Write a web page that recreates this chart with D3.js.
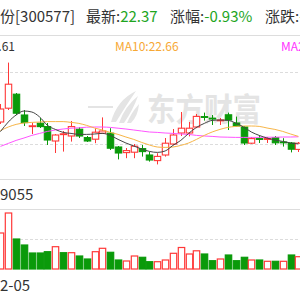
<!DOCTYPE html>
<html>
<head>
<meta charset="utf-8">
<script src="https://cdn.jsdelivr.net/npm/d3@7"></script>
<style>
  html, body { margin: 0; padding: 0; background: #fff; overflow: hidden; }
  svg { display: block; }
</style>
</head>
<body>
<svg id="chart"></svg>
<script>
// daily k-line, 39 sessions visible
const opens  = [23.50, 24.19, 24.89, 23.85, 23.30, 23.44, 23.27, 22.55, 22.90, 22.80, 23.14, 22.72, 22.64, 22.94, 22.94, 22.25, 21.97, 21.99, 22.17, 21.85, 21.57, 21.85, 22.40, 22.95, 22.95, 23.25, 23.77, 23.69, 23.59, 23.86, 23.45, 23.25, 22.44, 22.67, 22.66, 22.72, 22.50, 22.45, 22.13];
const closes = [24.15, 25.39, 23.94, 23.47, 23.31, 23.27, 22.60, 22.85, 22.91, 23.27, 22.80, 22.55, 22.99, 23.05, 22.19, 21.95, 22.07, 22.29, 22.02, 21.60, 21.78, 22.44, 22.85, 23.19, 23.19, 23.78, 23.76, 23.68, 23.60, 23.60, 23.30, 22.45, 22.67, 22.66, 22.67, 22.46, 22.49, 22.14, 22.44];
const highs  = [24.40, 26.47, 24.95, 24.10, 23.45, 23.70, 23.45, 22.90, 23.05, 23.55, 23.25, 22.80, 23.19, 23.73, 23.19, 22.30, 22.20, 22.40, 22.35, 22.02, 21.94, 22.70, 23.15, 24.00, 23.50, 23.90, 23.97, 23.85, 23.70, 23.97, 23.77, 23.30, 22.75, 22.83, 22.75, 22.80, 22.69, 22.50, 22.50];
const lows   = [23.40, 24.10, 23.85, 23.30, 22.90, 23.20, 22.35, 21.95, 22.02, 22.52, 22.70, 22.50, 22.44, 22.90, 22.10, 21.63, 21.69, 21.69, 21.77, 21.52, 21.38, 21.77, 22.35, 22.80, 22.78, 23.19, 23.57, 23.35, 23.35, 23.10, 23.27, 22.35, 22.40, 22.45, 22.45, 22.35, 22.27, 21.98, 22.00];

const volumes = [36000, 56000, 30000, 24000, 16000, 16000, 17300, 22300, 16300, 16300, 13000, 10000, 17300, 20700, 16700, 9000, 8000, 13000, 11700, 7300, 7300, 9000, 15700, 21500, 15000, 18200, 15000, 8300, 10000, 14000, 8300, 11700, 9000, 9000, 7700, 7700, 7700, 14000, 12300];
const volUp   = [1, 1, 0, 0, 0, 0, 0, 1, 0, 1, 0, 0, 1, 1, 0, 0, 1, 1, 0, 0, 1, 1, 1, 1, 1, 1, 0, 0, 1, 0, 0, 0, 1, 0, 1, 0, 1, 0, 1];

const ma5  = [23.02, 23.50, 23.85, 24.05, 24.00, 23.75, 23.33, 23.13, 22.98, 22.93, 22.88, 22.88, 22.90, 22.93, 22.83, 22.63, 22.45, 22.30, 22.15, 22.03, 21.98, 22.05, 22.33, 22.58, 22.93, 23.23, 23.43, 23.58, 23.60, 23.58, 23.45, 23.25, 23.00, 22.83, 22.70, 22.60, 22.53, 22.45, 22.40];
const ma10 = [23.07, 23.25, 23.38, 23.45, 23.48, 23.50, 23.52, 23.52, 23.52, 23.48, 23.43, 23.33, 23.20, 23.10, 22.98, 22.88, 22.75, 22.63, 22.48, 22.35, 22.25, 22.23, 22.25, 22.33, 22.45, 22.63, 22.83, 23.00, 23.13, 23.23, 23.28, 23.30, 23.30, 23.28, 23.20, 23.13, 23.03, 22.90, 22.78];
const ma20 = [22.28, 22.43, 22.58, 22.70, 22.83, 22.93, 23.03, 23.10, 23.15, 23.19, 23.21, 23.24, 23.25, 23.25, 23.23, 23.19, 23.15, 23.10, 23.05, 23.00, 22.98, 22.95, 22.93, 22.90, 22.88, 22.83, 22.80, 22.78, 22.75, 22.74, 22.73, 22.73, 22.73, 22.73, 22.74, 22.74, 22.75, 22.75, 22.76];

const priceTicks = [22.40, 26.00];
const volTicks = [30000];

const stockHidden = '开润股';   // scrolled off the left edge, only 份 shows
const header = [
  { label: '份[300577]', value: '', x: 0 },
  { label: '最新:', value: '22.37', x: 86 },
  { label: '涨幅:', value: '-0.93%', x: 170 },
  { label: '涨跌:', value: '-0.21', x: 265 }
];
const maLabels = [
  { text: 'MA5:22.61', color: '#333', anchor: 'end', x: 15 },
  { text: 'MA10:22.66', color: '#f7a834', anchor: 'start', x: 115 },
  { text: 'MA20:22.76', color: '#ff33ff', anchor: 'start', x: 281 }
];
const volLabel = '9055';
const dateLabel = '2-05';

/* ── setup ── */
const W = 300, H = 300;
const FONT = '"Noto Sans CJK SC", "Microsoft YaHei", sans-serif';
const RED = '#ff3838', GREEN = '#0a9a0a', GRID = '#dcdcdc';

const svg = d3.select('#chart').attr('width', W).attr('height', H)
  .attr('viewBox', `0 0 ${W} ${H}`);

const idx = d3.range(opens.length);
const x = d3.scaleLinear().domain([0, opens.length - 1]).range([0.45, 298.4]);
const y = d3.scaleLinear().domain([22.40, 26.00]).range([144, 72]);
const yv = d3.scaleLinear().domain([0, 60000]).range([269, 209]);
const bw = 6.4;

/* ── header text ── */
const ht = svg.append('g').attr('font-family', FONT).attr('font-size', 15);
// measure the part of the name that sits left of the frame
const probe = ht.append('text').attr('x', 0).attr('y', -50).text(stockHidden);
const hiddenW = probe.node().getComputedTextLength();
probe.remove();
header.forEach((h, k) => {
  const t = ht.append('text').attr('x', k === 0 ? -hiddenW : h.x).attr('y', 22);
  t.append('tspan').attr('fill', '#333').text(k === 0 ? stockHidden + h.label : h.label);
  if (h.value) t.append('tspan').attr('fill', '#1ea51e').text(h.value);
});

/* ── frame lines ── */
[35.5, 179.5, 209.5].forEach((yy) => {
  svg.append('line').attr('x1', 0).attr('x2', W).attr('y1', yy).attr('y2', yy)
    .attr('stroke', '#ddd').attr('stroke-width', 1);
});

svg.append('g').selectAll('line').data(priceTicks).join('line')
  .attr('x1', 0).attr('x2', W)
  .attr('y1', (d) => Math.round(y(d)) + 0.5).attr('y2', (d) => Math.round(y(d)) + 0.5)
  .attr('stroke', GRID).attr('stroke-dasharray', '3,2');

svg.append('g').selectAll('line').data(volTicks).join('line')
  .attr('x1', 0).attr('x2', W)
  .attr('y1', (d) => Math.round(yv(d)) + 0.5).attr('y2', (d) => Math.round(yv(d)) + 0.5)
  .attr('stroke', GRID).attr('stroke-dasharray', '3,2');

/* ── MA labels ── */
svg.append('g').attr('font-family', FONT).attr('font-size', 12)
  .selectAll('text').data(maLabels).join('text')
  .attr('x', (d) => d.x).attr('y', 51)
  .attr('text-anchor', (d) => d.anchor)
  .attr('fill', (d) => d.color)
  .text((d) => d.text);

/* ── watermark ── */
const wm = svg.append('g').attr('fill', '#e4e4e4');
wm.append('line').attr('x1', 88).attr('x2', 113).attr('y1', 107).attr('y2', 107)
  .attr('stroke', '#e4e4e4').attr('stroke-width', 2);
wm.append('path').attr('d', 'M111,122 Q117,100 136,91 Q127,104 116,122 Z');
wm.append('path').attr('d', 'M119,123 Q125,106 138,96 Q133,110 124,123 Z');
wm.append('path').attr('d', 'M127,123 Q131,113 139,104 Q138,116 131,123 Z');
wm.append('text').attr('x', 147).attr('y', 121)
  .attr('font-family', FONT).attr('font-size', 32).attr('font-weight', 700)
  .attr('textLength', 114).attr('lengthAdjust', 'spacingAndGlyphs')
  .text('东方财富');

/* ── candles ── */
const isUp = (i) => closes[i] >= opens[i];
const cg = svg.append('g');
cg.selectAll('line.wick').data(idx).join('line')
  .attr('class', 'wick')
  .attr('x1', (i) => Math.round(x(i)) + 0.5).attr('x2', (i) => Math.round(x(i)) + 0.5)
  .attr('y1', (i) => y(highs[i])).attr('y2', (i) => y(lows[i]))
  .attr('stroke', (i) => isUp(i) ? RED : GREEN).attr('stroke-width', 1);
cg.selectAll('rect.body').data(idx).join('rect')
  .attr('class', 'body')
  .attr('x', (i) => Math.round(x(i)) + 0.5 - bw / 2)
  .attr('y', (i) => y(Math.max(opens[i], closes[i])))
  .attr('width', bw)
  .attr('height', (i) => Math.max(0.8, Math.abs(y(opens[i]) - y(closes[i]))))
  .attr('fill', (i) => isUp(i) ? '#fff' : GREEN)
  .attr('stroke', (i) => isUp(i) ? RED : GREEN)
  .attr('stroke-width', 1.1);

/* ── moving averages ── */
const maLine = (arr) => d3.line().x((d, i) => x(i)).y((d) => y(d)).curve(d3.curveMonotoneX)(arr);
[[ma20, '#ff55ff'], [ma10, '#f7b547'], [ma5, '#444']].forEach(([arr, c]) => {
  svg.append('path').attr('d', maLine(arr)).attr('fill', 'none')
    .attr('stroke', c).attr('stroke-width', 1);
});

/* ── volume ── */
svg.append('g').selectAll('rect').data(idx).join('rect')
  .attr('x', (i) => Math.round(x(i)) + 0.5 - bw / 2)
  .attr('y', (i) => yv(volumes[i]))
  .attr('width', bw)
  .attr('height', (i) => yv(0) - yv(volumes[i]))
  .attr('fill', (i) => volUp[i] ? '#fff' : GREEN)
  .attr('stroke', (i) => volUp[i] ? RED : GREEN)
  .attr('stroke-width', 1.2);

/* ── bottom labels ── */
svg.append('text').attr('x', 0).attr('y', 200)
  .attr('font-family', FONT).attr('font-size', 15).attr('fill', '#333')
  .text(volLabel);
svg.append('text').attr('x', 0).attr('y', 291)
  .attr('font-family', FONT).attr('font-size', 15).attr('fill', '#333')
  .text(dateLabel);
</script>
</body>
</html>
